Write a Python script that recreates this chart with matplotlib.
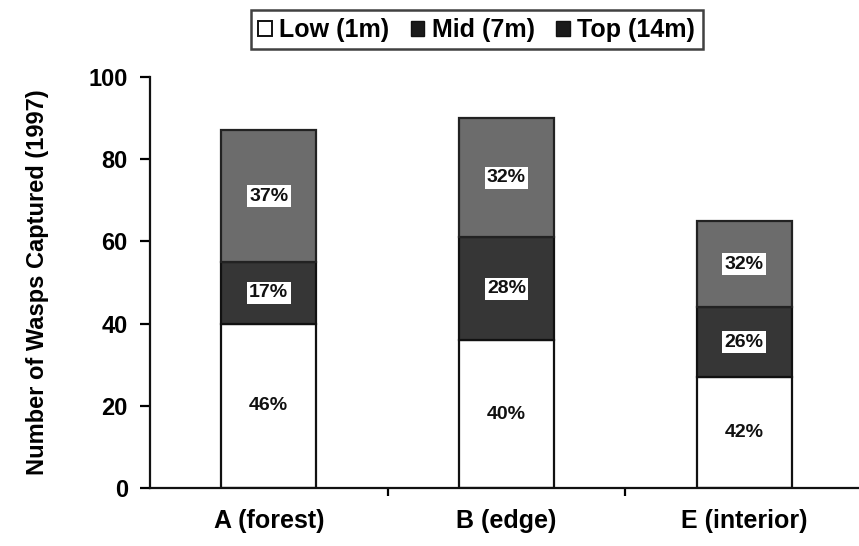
import matplotlib
matplotlib.use("Agg")
import matplotlib.pyplot as plt
from matplotlib.patches import Patch

plt.rcParams['font.family'] = ['Liberation Sans', 'DejaVu Sans']
plt.rcParams['font.weight'] = 'bold'

sites = ["A (forest)", "B (edge)", "E (interior)"]
low = [40, 36, 27]
mid = [15, 25, 17]
top = [32, 29, 21]
low_pct = ["46%", "40%", "42%"]
mid_pct = ["17%", "28%", "26%"]
top_pct = ["37%", "32%", "32%"]

fig = plt.figure(figsize=(8.59, 5.46), dpi=100)
ax = fig.add_axes([0.1746, 0.106, 0.83, 0.753])

x = range(len(sites))
w = 0.4
c_low, c_mid, c_top = "#ffffff", "#363636", "#6c6c6c"

ax.bar(x, low, w, color=c_low, edgecolor="#111111", linewidth=1.6)
ax.bar(x, mid, w, bottom=low, color=c_mid, edgecolor="#111111", linewidth=1.6)
bottom_top = [l + m for l, m in zip(low, mid)]
ax.bar(x, top, w, bottom=bottom_top, color=c_top, edgecolor="#222222", linewidth=1.6)

box = dict(boxstyle="square,pad=0.12", facecolor="white", edgecolor="none")
for i in x:
    ax.text(i, low[i] / 2, low_pct[i], ha="center", va="center", fontsize=14,
            fontweight="bold", color="#111111")
    ax.text(i, low[i] + mid[i] / 2, mid_pct[i], ha="center", va="center", fontsize=14,
            fontweight="bold", color="#111111", bbox=box)
    ax.text(i, bottom_top[i] + top[i] / 2, top_pct[i], ha="center", va="center", fontsize=14,
            fontweight="bold", color="#111111", bbox=box)

ax.set_xlim(-0.5, 2.5)
ax.set_ylim(0, 100)
ax.set_yticks([0, 20, 40, 60, 80, 100])
ax.set_xticks([0.5, 1.5], minor=False)
ax.set_xticklabels(["", ""])
ax.set_xticks(list(x), minor=True)
ax.set_xticklabels(sites, minor=True, fontsize=18, fontweight="bold")
ax.tick_params(axis="x", which="minor", length=0, pad=15)
ax.tick_params(axis="x", which="major", length=6, width=1.6, direction="out")
ax.tick_params(axis="y", length=7, width=1.6, direction="out", labelsize=17, pad=9)
for lbl in ax.get_yticklabels():
    lbl.set_fontweight("bold")

for s in ["top", "right"]:
    ax.spines[s].set_visible(False)
for s in ["left", "bottom"]:
    ax.spines[s].set_linewidth(1.6)
    ax.spines[s].set_color("#111111")

ax.set_ylabel("Number of Wasps Captured (1997)", fontsize=17, fontweight="bold", labelpad=28)

handles = [
    Patch(facecolor="white", edgecolor="#111111", linewidth=1.4),
    Patch(facecolor="#1a1a1a", edgecolor="#111111"),
    Patch(facecolor="#1a1a1a", edgecolor="#111111"),
]
leg = fig.legend(handles, ["Low (1m)", "Mid (7m)", "Top (14m)"], loc="upper center",
                 bbox_to_anchor=(0.555, 0.99), ncol=3, frameon=True, fancybox=False,
                 handlelength=0.55, handleheight=0.55, handletextpad=0.3, columnspacing=0.85,
                 borderpad=0.3, borderaxespad=0.2, prop={"size": 18, "weight": "bold"})
leg.get_frame().set_edgecolor("#111111")
leg.get_frame().set_linewidth(1.8)

fig.savefig("out.png", dpi=100)
